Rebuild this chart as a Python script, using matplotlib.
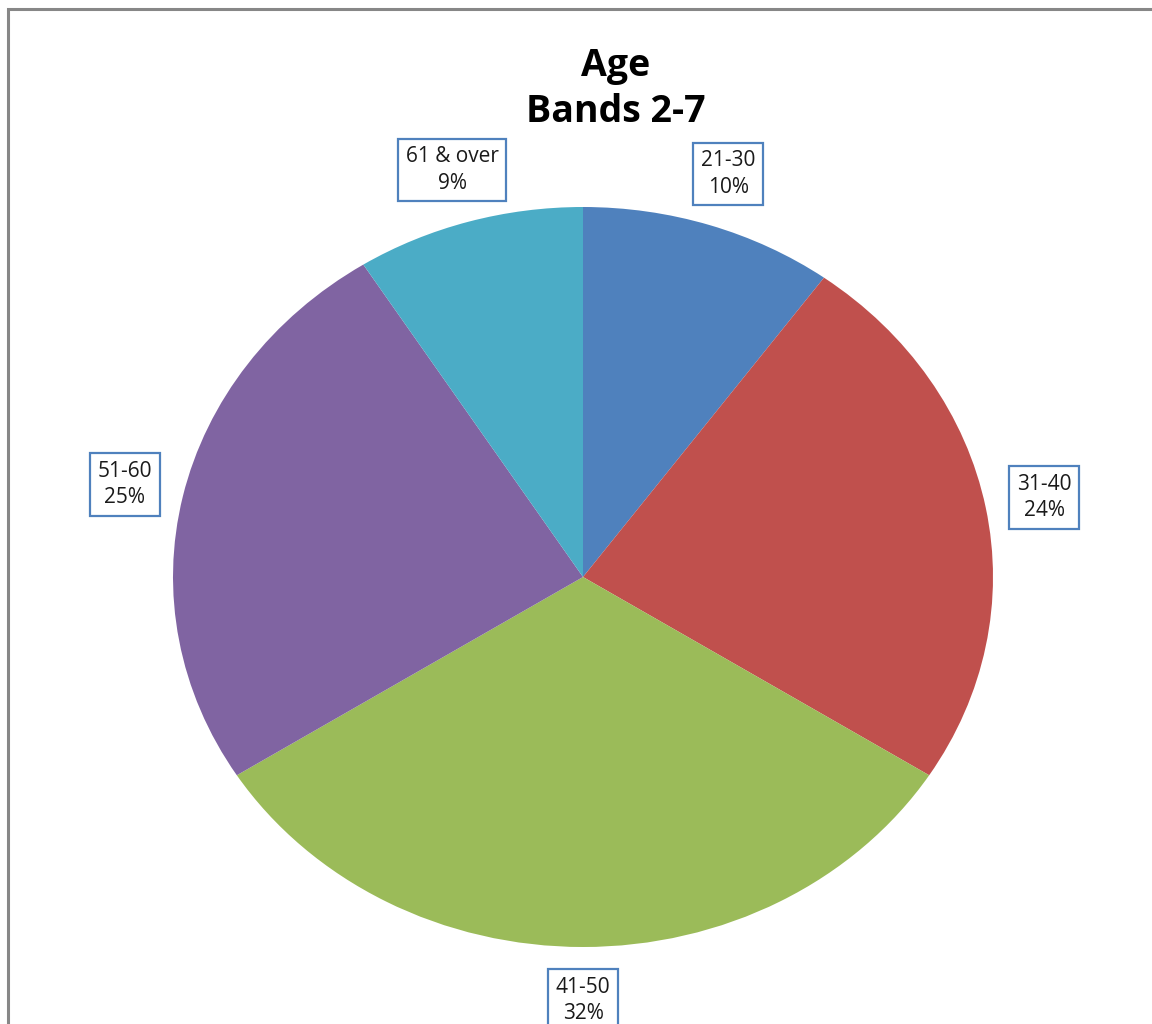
import matplotlib
matplotlib.use('Agg')
import matplotlib.pyplot as plt
from matplotlib.patches import Rectangle

# age band shares (percent)
bands = ['21-30', '31-40', '41-50', '51-60', '61 & over']
shares = [10, 24, 32, 25, 9]
colours = ['#4F81BD', '#C0504D', '#9BBB59', '#8064A2', '#4BACC6']
title = 'Age\nBands 2-7'

plt.rcParams['font.family'] = ['Open Sans', 'DejaVu Sans']

fig = plt.figure(figsize=(11.52, 10.24), dpi=100)

# grey chart frame, runs off the right and bottom edges
frame = Rectangle((8 / 1152, -0.05), 1.2, (1024 - 9) / 1024 + 0.05,
                  transform=fig.transFigure, fill=False,
                  edgecolor='#878787', linewidth=2.2)
fig.patches.append(frame)

ax = fig.add_axes([173 / 1152, (1024 - 947) / 1024, 820 / 1152, 740 / 1024])
labels = [f'{b}\n{s}%' for b, s in zip(bands, shares)]
wedges, texts = ax.pie(shares, labels=labels, colors=colours, startangle=90,
                       counterclock=False, labeldistance=1.145,
                       wedgeprops=dict(linewidth=0))
for t in texts:
    t.set_ha('center')
    t.set_va('center')
    t.set_fontsize(15)
    t.set_color('#1a1a1a')
    t.set_linespacing(1.35)
    t.set_bbox(dict(boxstyle='square,pad=0.36', facecolor='white',
                    edgecolor='#4F81BD', linewidth=1.6))
ax.set_aspect('auto')
ax.set_xlim(-1, 1)
ax.set_ylim(-1, 1)
ax.axis('off')

fig.text(616 / 1152, 1 - 89 / 1024, title, ha='center', va='center',
         fontsize=27, fontweight='bold', color='black', linespacing=1.3)

fig.savefig('out.png', dpi=100)
